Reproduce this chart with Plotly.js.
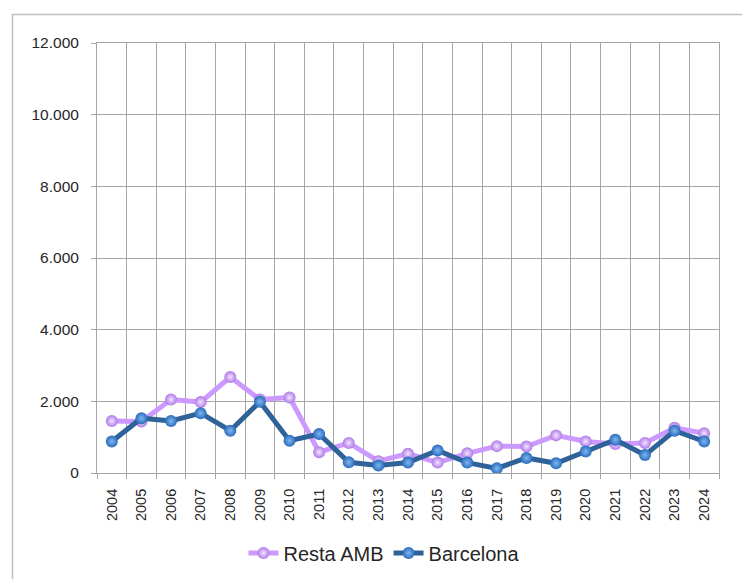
<!DOCTYPE html>
<html>
<head>
<meta charset="utf-8">
<script src="https://cdn.plot.ly/plotly-3.0.1.min.js"></script>
<style>
html,body{margin:0;padding:0;background:#fff;}
#chart{width:742px;height:579px;}
</style>
</head>
<body>
<div id="chart"></div>
<script>
const years = ["2004","2005","2006","2007","2008","2009","2010","2011","2012","2013","2014","2015","2016","2017","2018","2019","2020","2021","2022","2023","2024"];
const restaAMB = [1450,1440,2050,1980,2680,2050,2110,580,840,330,540,290,550,750,740,1050,880,810,840,1260,1110];
const barcelona = [880,1530,1450,1670,1180,1990,900,1090,300,210,290,630,290,130,420,270,600,930,500,1180,880];
const seriesNames = ["Resta AMB","Barcelona"];

const gridColor = "#a6a6a6";
const traces = [
  {
    x: years, y: restaAMB, name: seriesNames[0], type: "scatter", mode: "lines+markers",
    line: {color: "#cc99ff", width: 5},
    marker: {size: 12, color: "#b07ae8", gradient: {type: "radial", color: "#f3e4ff"}, line: {width: 0}}
  },
  {
    x: years, y: barcelona, name: seriesNames[1], type: "scatter", mode: "lines+markers",
    line: {color: "#2f6298", width: 5},
    marker: {size: 12, color: "#2a6cbd", gradient: {type: "radial", color: "#7fb6ee"}, line: {width: 0}}
  }
];

const layout = {
  width: 742, height: 579,
  margin: {l: 97, r: 23, t: 43, b: 106, autoexpand: false},
  paper_bgcolor: "#ffffff", plot_bgcolor: "#ffffff",
  separators: ",.",
  font: {family: "Liberation Sans, Arial, sans-serif", color: "#262626"},
  showlegend: true,
  legend: {orientation: "h", xref: "container", yref: "container",
           x: 384 / 742, xanchor: "center", y: 1 - 553 / 579, yanchor: "middle",
           font: {size: 20, color: "#262626"}, itemwidth: 30, traceorder: "normal"},
  xaxis: {
    type: "category", range: [-0.5, years.length - 0.5], autorange: false, automargin: false,
    tickson: "boundaries", showgrid: true, gridcolor: gridColor, gridwidth: 1,
    showline: true, linecolor: gridColor, linewidth: 1, mirror: true,
    ticks: "outside", ticklen: 5, tickcolor: gridColor, ticklabelstandoff: 9,
    tickangle: -90, tickfont: {size: 14.5, color: "#262626"}, fixedrange: true
  },
  yaxis: {
    range: [0, 12000], dtick: 2000, tick0: 0, tickformat: ",d", automargin: false,
    showgrid: true, gridcolor: gridColor, gridwidth: 1, zeroline: false,
    showline: true, linecolor: gridColor, linewidth: 1, mirror: true,
    ticks: "outside", ticklen: 5, tickcolor: gridColor, ticklabelstandoff: 9,
    tickfont: {size: 15.5, color: "#262626"}, fixedrange: true
  },
  shapes: [{
    type: "rect", xref: "paper", yref: "paper",
    x0: (12.5 - 97) / 622, x1: 1.06, y0: -0.3, y1: (473 - 14.5) / 430,
    line: {color: "#bfbfbf", width: 1.5}, fillcolor: "rgba(0,0,0,0)", layer: "below"
  }]
};

Plotly.newPlot("chart", traces, layout, {displayModeBar: false, staticPlot: true});
</script>
</body>
</html>
